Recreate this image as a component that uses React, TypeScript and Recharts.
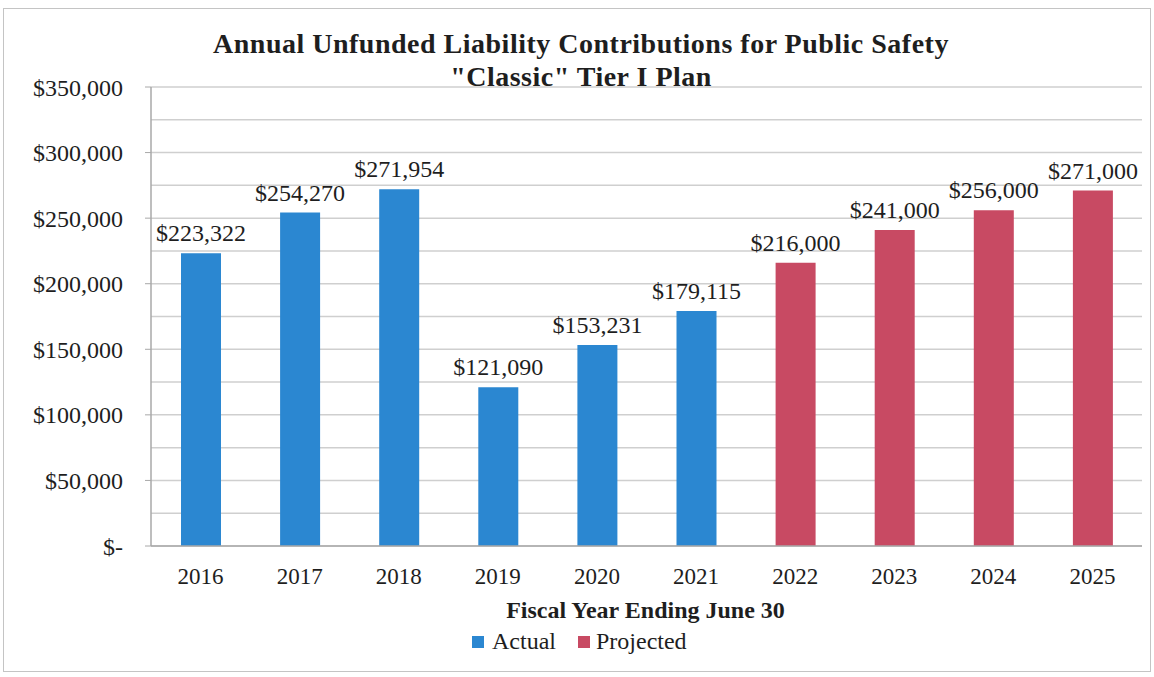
import React from 'react';
import { BarChart, Bar, XAxis, YAxis, CartesianGrid, LabelList } from 'recharts';

const years = ['2016', '2017', '2018', '2019', '2020', '2021', '2022', '2023', '2024', '2025'];
const actual = [223322, 254270, 271954, 121090, 153231, 179115, null, null, null, null];
const projected = [null, null, null, null, null, null, 216000, 241000, 256000, 271000];
const yTicks = [0, 50000, 100000, 150000, 200000, 250000, 300000, 350000];
const gridValues = [
  0, 25000, 50000, 75000, 100000, 125000, 150000, 175000,
  200000, 225000, 250000, 275000, 300000, 325000, 350000,
];

const BLUE = '#2b87d1';
const RED = '#c84a63';
const FONT = '"Liberation Serif", "Times New Roman", serif';
const INK = '#1e1e1e';

const chartData = years.map((year, i) => ({
  year,
  actual: actual[i],
  projected: projected[i],
}));

const money = (v: any) => {
  if (v === null || v === undefined) return '';
  if (v === 0) return '$-';
  return '$' + Number(v).toLocaleString('en-US');
};

export default function App() {
  return (
    <div
      style={{
        position: 'absolute',
        left: 0,
        top: 0,
        width: 1154,
        height: 677,
        background: '#fff',
        fontFamily: FONT,
      }}
    >
      <div
        style={{
          position: 'absolute',
          left: 3,
          top: 8,
          width: 1146,
          height: 662,
          border: '1px solid #c4c4c4',
        }}
      />
      <div
        style={{
          position: 'absolute',
          left: 0,
          top: 27,
          width: 1162,
          textAlign: 'center',
          fontWeight: 'bold',
          fontSize: 28,
          letterSpacing: 0.5,
          lineHeight: '33px',
          color: INK,
        }}
      >
        Annual Unfunded Liability Contributions for Public Safety
        <br />
        "Classic" Tier I Plan
      </div>

      <div style={{ position: 'absolute', left: 0, top: 0 }}>
        <BarChart
          width={1154}
          height={677}
          data={chartData}
          margin={{ top: 87, right: 12, bottom: 101, left: 0 }}
          barSize={40}
        >
          <CartesianGrid
            vertical={false}
            horizontalValues={gridValues}
            stroke="#cfcfcf"
            strokeWidth={1.5}
          />
          <XAxis
            dataKey="year"
            height={30}
            tickLine={false}
            axisLine={{ stroke: '#a8a8a8', strokeWidth: 1.5 }}
            tick={{ fill: INK, fontSize: 23, fontFamily: FONT }}
            tickMargin={16}
          />
          <YAxis
            width={151}
            domain={[0, 350000]}
            ticks={yTicks}
            tickFormatter={money}
            tickSize={6}
            tickMargin={22}
            tickLine={{ stroke: '#a8a8a8' }}
            axisLine={{ stroke: '#a8a8a8', strokeWidth: 1.5 }}
            tick={{ fill: INK, fontSize: 24, fontFamily: FONT }}
          />
          <Bar dataKey="actual" stackId="a" fill={BLUE} isAnimationActive={false}>
            <LabelList
              dataKey="actual"
              position="top"
              offset={12}
              formatter={money}
              style={{ fill: INK, fontSize: 24, fontFamily: FONT }}
            />
          </Bar>
          <Bar dataKey="projected" stackId="a" fill={RED} isAnimationActive={false}>
            <LabelList
              dataKey="projected"
              position="top"
              offset={12}
              formatter={money}
              style={{ fill: INK, fontSize: 24, fontFamily: FONT }}
            />
          </Bar>
        </BarChart>
      </div>

      <div
        style={{
          position: 'absolute',
          left: 483,
          top: 597,
          width: 325,
          textAlign: 'center',
          fontWeight: 'bold',
          fontSize: 24,
          color: INK,
          whiteSpace: 'nowrap',
        }}
      >
        Fiscal Year Ending June 30
      </div>
      <div
        style={{
          position: 'absolute',
          left: 472,
          top: 628,
          display: 'flex',
          alignItems: 'center',
          fontSize: 24,
          color: INK,
          whiteSpace: 'nowrap',
        }}
      >
        <span style={{ width: 12, height: 12, background: BLUE, marginRight: 8 }} />
        <span style={{ marginRight: 22 }}>Actual</span>
        <span style={{ width: 12, height: 12, background: RED, marginRight: 6 }} />
        <span>Projected</span>
      </div>
    </div>
  );
}
